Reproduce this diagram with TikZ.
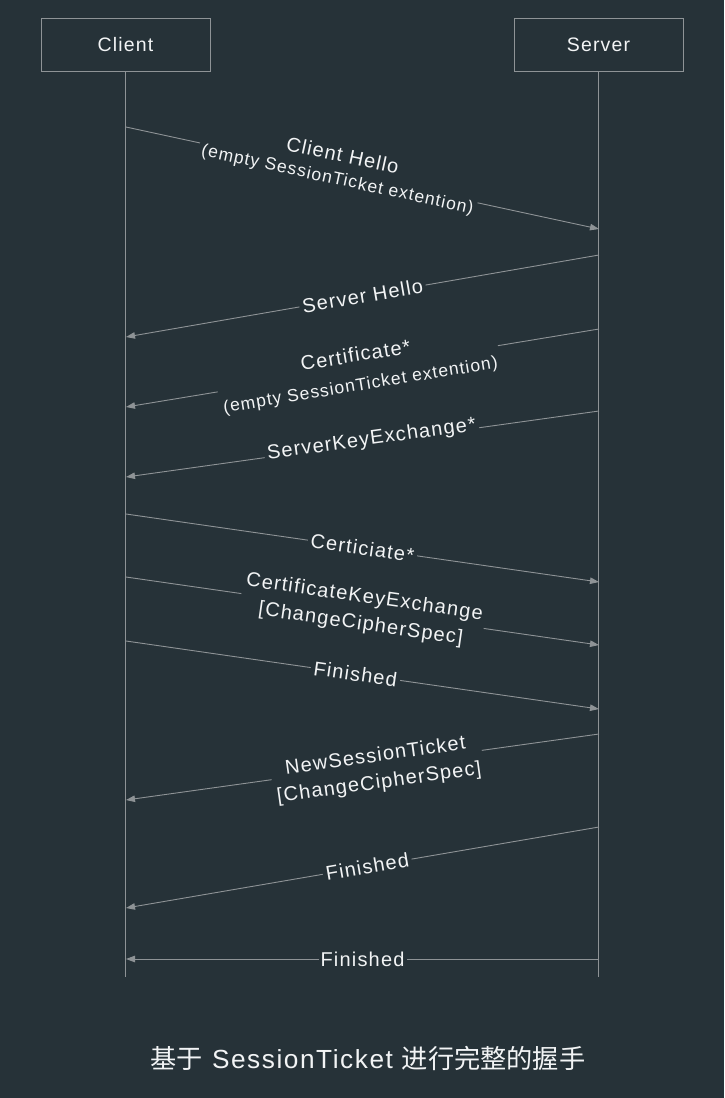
\documentclass[tikz,border=0pt]{standalone}
\usepackage{fontspec}
\setmainfont[LetterSpace=6]{Liberation Sans}
\newfontfamily\cjk{Noto Sans CJK SC}
\usetikzlibrary{arrows.meta}
\definecolor{bg}{HTML}{263238}
\definecolor{ln}{HTML}{8E9396}
\definecolor{tx}{HTML}{F2F4F5}
\newcommand{\subfont}{\fontsize{17.5}{19}\selectfont}
\begin{document}
\begin{tikzpicture}[x=1pt,y=-1pt,
  actor/.style={draw=ln, line width=0.9pt, minimum width=169pt, minimum height=53pt, text=tx, font=\fontsize{19.5}{22}\selectfont},
  life/.style={draw=ln, line width=0.9pt},
  msg/.style={draw=ln, line width=0.9pt, -{Triangle[length=9pt,width=6.5pt]}},
  lbl/.style={fill=bg, text=tx, sloped, inner xsep=3pt, inner ysep=1pt, font=\fontsize{20}{23}\selectfont, align=center}]
\fill[bg] (0,0) rectangle (724,1098);
\useasboundingbox (0,0) rectangle (724,1098);

\node[actor] (client) at (125.5,44.5) {Client};
\node[actor] (server) at (598.5,44.5) {Server};
\coordinate (cend) at (125.5,977);
\coordinate (send) at (598.5,977);
\draw[life] (client.south) -- (cend);
\draw[life] (server.south) -- (send);

% endpoints
\coordinate (c1) at (126,127);  \coordinate (s1) at (599,229);
\coordinate (s2) at (599,255);  \coordinate (c2) at (126,337);
\coordinate (s3) at (599,329);  \coordinate (c3) at (126,407);
\coordinate (s4) at (599,411);  \coordinate (c4) at (126,477);
\coordinate (c5) at (126,514);  \coordinate (s5) at (599,582);
\coordinate (c6) at (126,577);  \coordinate (s6) at (599,645);
\coordinate (c7) at (126,641);  \coordinate (s7) at (599,709);
\coordinate (s8) at (599,734);  \coordinate (c8) at (126,800);
\coordinate (s9) at (599,827);  \coordinate (c9) at (126,908);
\coordinate (s10) at (599,959); \coordinate (c10) at (126,959);

\draw[msg] (c1) -- node[lbl, pos=0.45, yshift=5pt] {Client Hello\\[0pt]\subfont(empty SessionTicket extention)} (s1);
\draw[msg] (s2) -- node[lbl, pos=0.5] {Server Hello} (c2);
\draw[msg] (s3) -- node[lbl, pos=0.51, yshift=-2pt] {Certificate*\\[6pt]\subfont(empty SessionTicket extention)} (c3);
\draw[msg] (s4) -- node[lbl, pos=0.48, yshift=3pt] {ServerKeyExchange*} (c4);
\draw[msg] (c5) -- node[lbl, pos=0.5] {Certiciate*} (s5);
\draw[msg] (c6) -- node[lbl, pos=0.5] {CertificateKeyExchange\\[4pt]{[}ChangeCipherSpec{]}} (s6);
\draw[msg] (c7) -- node[lbl, pos=0.485] {Finished} (s7);
\draw[msg] (s8) -- node[lbl, pos=0.47, yshift=-5pt] {NewSessionTicket\\[4pt]{[}ChangeCipherSpec{]}} (c8);
\draw[msg] (s9) -- node[lbl, pos=0.49] {Finished} (c9);
\draw[msg] (s10) -- node[lbl, pos=0.5, inner xsep=2pt] {Finished} (c10);

\node[text=tx, font=\fontsize{26.2}{29}\selectfont] (cap) at (368,1058) {{\cjk 基于} SessionTicket {\cjk 进行完整的握手}};
\end{tikzpicture}
\end{document}
